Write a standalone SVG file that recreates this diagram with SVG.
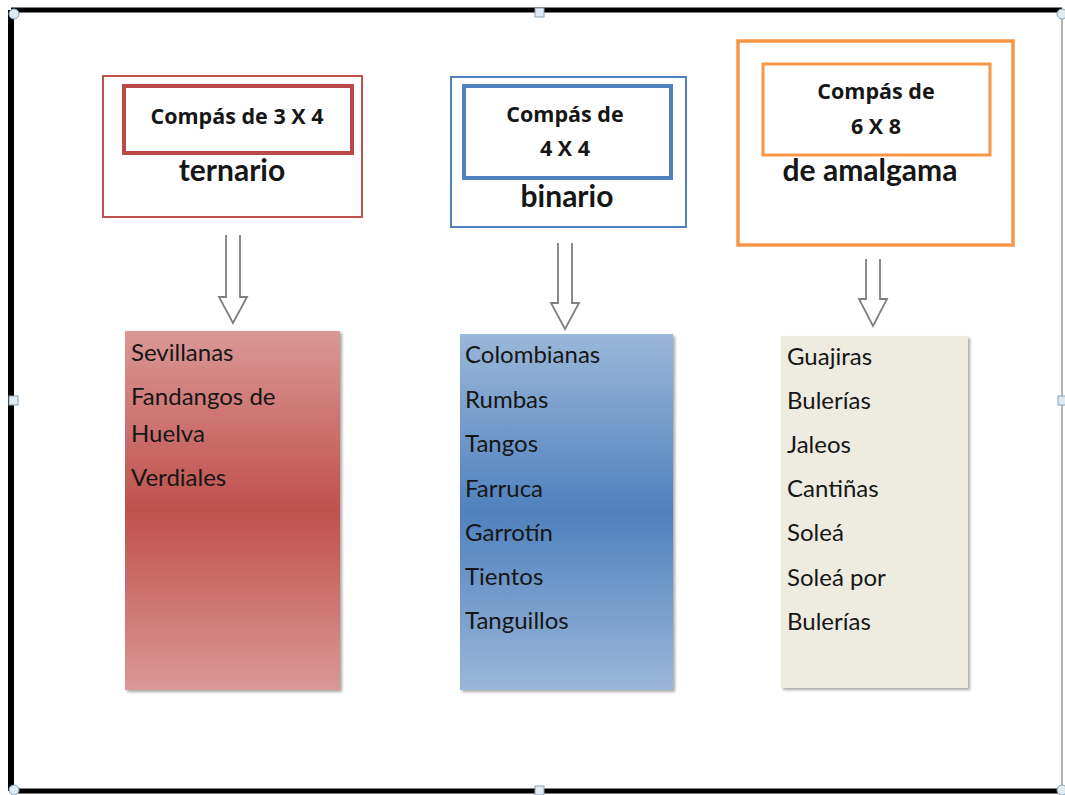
<svg xmlns="http://www.w3.org/2000/svg" width="1065" height="795" viewBox="0 0 1065 795">
<style>
.t{font-family:Lato,"Open Sans","Liberation Sans",sans-serif;fill:#161616}
.h{font-weight:bold;text-anchor:middle}
.c{font-family:"Open Sans",Lato,"Liberation Sans",sans-serif;font-size:21.5px}
.b{font-size:30px}
.li{font-size:24px}
.arrow{fill:#fff;stroke:#7f7f7f;stroke-width:1.8}
.handle{fill:#dfeaf2;stroke:#8aa0b0;stroke-width:1}
</style>
<defs>
<linearGradient id="gr" x1="0" y1="0" x2="0" y2="1">
<stop offset="0" stop-color="#da9896"/><stop offset="0.5" stop-color="#c0504d"/><stop offset="1" stop-color="#da9896"/>
</linearGradient>
<linearGradient id="gb" x1="0" y1="0" x2="0" y2="1">
<stop offset="0" stop-color="#9bb7d9"/><stop offset="0.5" stop-color="#4f81bd"/><stop offset="1" stop-color="#9bb7d9"/>
</linearGradient>
<filter id="sh" x="-5%" y="-5%" width="115%" height="115%">
<feDropShadow dx="2" dy="2" stdDeviation="1.5" flood-color="#000" flood-opacity="0.35"/>
</filter>
</defs>
<rect width="1065" height="795" fill="#fff"/>
<g id="frame">
<line x1="11" y1="10" x2="1062" y2="10" stroke="#000" stroke-width="5"/>
<line x1="11" y1="10" x2="11" y2="791" stroke="#000" stroke-width="6"/>
<line x1="11" y1="791" x2="1062" y2="791" stroke="#000" stroke-width="5"/>
<line x1="1062" y1="12" x2="1062" y2="789" stroke="#9a9a9a" stroke-width="1.5"/>
<circle class="handle" cx="14" cy="14" r="5"/>
<circle class="handle" cx="1062" cy="14" r="5"/>
<circle class="handle" cx="14" cy="790" r="5"/>
<circle class="handle" cx="1062" cy="790" r="5"/>
<rect class="handle" x="535" y="8" width="9" height="9"/>
<rect class="handle" x="535" y="786" width="9" height="9"/>
<rect class="handle" x="9" y="396" width="9" height="9"/>
<rect class="handle" x="1058" y="396" width="9" height="9"/>
</g>
<g id="node-ternario">
<rect x="103" y="76" width="259" height="141" fill="#fff" stroke="#c0504d" stroke-width="2"/>
<rect x="124" y="86" width="228" height="67" fill="#fff" stroke="#b94a48" stroke-width="4"/>
<text class="t h c" x="237" y="124">Compás de 3 X 4</text>
<text class="t h b" x="232" y="181">ternario</text>
</g>
<g id="node-binario">
<rect x="451" y="77" width="235" height="150" fill="#fff" stroke="#4f81bd" stroke-width="2"/>
<rect x="464" y="86" width="207" height="92" fill="#fff" stroke="#4f81bd" stroke-width="4"/>
<text class="t h c" x="565" y="122">Compás de</text>
<text class="t h c" x="565" y="156">4 X 4</text>
<text class="t h b" x="567" y="207">binario</text>
</g>
<g id="node-amalgama">
<rect x="738" y="41" width="275" height="204" fill="#fff" stroke="#f79646" stroke-width="3.5"/>
<rect x="763" y="64" width="227" height="91" fill="#fff" stroke="#f79646" stroke-width="3"/>
<text class="t h c" x="876" y="99">Compás de</text>
<text class="t h c" x="876" y="134">6 X 8</text>
<text class="t h b" x="870" y="181">de amalgama</text>
</g>
<g id="connectors">
<path class="arrow" d="M226,235 V297 H219 L233,323 L247,297 H240 V235"/>
<path class="arrow" d="M558,243 V303 H551 L565,329 L579,303 H572 V243"/>
<path class="arrow" d="M866,259 V299 H859 L873,326 L887,299 H880 V259"/>
</g>
<g id="list-ternario">
<rect x="125" y="331" width="215" height="359" fill="url(#gr)" filter="url(#sh)"/>
<text class="t li" x="131" y="361">Sevillanas</text>
<text class="t li" x="131" y="405">Fandangos de</text>
<text class="t li" x="131" y="442">Huelva</text>
<text class="t li" x="131" y="486">Verdiales</text>
</g>
<g id="list-binario">
<rect x="460" y="334" width="213" height="356" fill="url(#gb)" filter="url(#sh)"/>
<text class="t li" x="465" y="363">Colombianas</text>
<text class="t li" x="465" y="408">Rumbas</text>
<text class="t li" x="465" y="452">Tangos</text>
<text class="t li" x="465" y="497">Farruca</text>
<text class="t li" x="465" y="541">Garrotín</text>
<text class="t li" x="465" y="585">Tientos</text>
<text class="t li" x="465" y="629">Tanguillos</text>
</g>
<g id="list-amalgama">
<rect x="781" y="336" width="187" height="352" fill="#eeece1" filter="url(#sh)"/>
<text class="t li" x="787" y="365">Guajiras</text>
<text class="t li" x="787" y="409">Bulerías</text>
<text class="t li" x="787" y="453">Jaleos</text>
<text class="t li" x="787" y="497">Cantiñas</text>
<text class="t li" x="787" y="541">Soleá</text>
<text class="t li" x="787" y="586">Soleá por</text>
<text class="t li" x="787" y="630">Bulerías</text>
</g>
</svg>
